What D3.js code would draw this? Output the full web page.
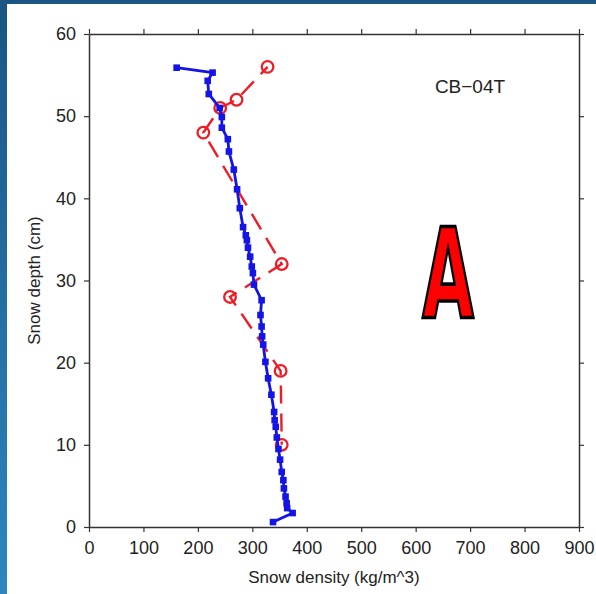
<!DOCTYPE html>
<html>
<head>
<meta charset="utf-8">
<script src="https://cdn.jsdelivr.net/npm/d3@7"></script>
<style>
  html, body { margin: 0; padding: 0; background: #fff; }
  svg { display: block; }
  text { font-family: "Liberation Sans", Arial, Helvetica, sans-serif; }
</style>
</head>
<body>
<svg id="chart" width="596" height="594"></svg>
<script>
// ---- data ----
const xTicks = [0, 100, 200, 300, 400, 500, 600, 700, 800, 900];
const yTicks = [0, 10, 20, 30, 40, 50, 60];
const xLabel = "Snow density (kg/m^3)";
const yLabel = "Snow depth (cm)";
const siteLabel = "CB\u221204T";
const panelLetter = "A";

// blue profile: [density, depth]
const blueDensity = [161, 227, 218, 220, 240, 244, 244, 255, 257, 266, 272, 277, 283, 288, 290, 292, 296, 299, 301, 303,
                     317, 315, 317, 318, 320, 324, 329, 335, 340, 341, 343, 345, 348, 351, 354, 357, 358, 361, 363, 364, 374, 338];
const blueDepth   = [55.9, 55.3, 54.3, 52.7, 51.0, 49.9, 48.6, 47.2, 45.7, 43.5, 41.1, 38.8, 36.5, 35.5, 34.9, 34.0, 32.9, 31.7, 30.9, 29.5,
                     27.6, 25.8, 24.4, 23.2, 22.2, 20.1, 18.1, 16.1, 14.0, 13.0, 12.2, 10.9, 9.5, 8.2, 6.7, 5.7, 4.7, 3.7, 2.9, 2.3, 1.7, 0.6];

// red profile
const redDensity = [328, 271, 241, 210, 354, 259, 352, 354];
const redDepth   = [56, 52, 51, 48, 32, 28, 19, 10];

// ---- drawing ----
const W = 596, H = 594;
const svg = d3.select("#chart");

// background frame gradient
const defs = svg.append("defs");
const grad = defs.append("linearGradient").attr("id", "bg").attr("x1", 0).attr("y1", 0).attr("x2", 0).attr("y2", 1);
grad.append("stop").attr("offset", "0%").attr("stop-color", "#1a5583");
grad.append("stop").attr("offset", "100%").attr("stop-color", "#2e86c0");
svg.append("rect").attr("width", W).attr("height", H).attr("fill", "url(#bg)");
svg.append("rect").attr("x", 7).attr("y", 4).attr("width", W - 7).attr("height", H - 4).attr("fill", "#ffffff");

const x = d3.scaleLinear().domain([0, 900]).range([89, 579]);
const y = d3.scaleLinear().domain([0, 60]).range([527, 34]);

const axisColor = "#333";
function styleAxis(g) {
  g.selectAll("path.domain").attr("stroke", axisColor).attr("stroke-width", 1.5);
  g.selectAll(".tick line").attr("stroke", axisColor).attr("stroke-width", 1.2);
  g.selectAll("text").attr("fill", "#222").style("font-size", "18px")
    .style("font-family", '"Liberation Sans", Arial, sans-serif');
}

svg.append("g").attr("transform", `translate(0,${y(0)})`)
  .call(d3.axisBottom(x).tickValues(xTicks).tickSize(5).tickSizeOuter(0).tickPadding(9))
  .call(styleAxis);
svg.append("g").attr("transform", `translate(0,${y(60)})`)
  .call(d3.axisTop(x).tickValues(xTicks).tickSize(5).tickSizeOuter(0).tickFormat(""))
  .call(styleAxis);
svg.append("g").attr("transform", `translate(${x(0)},0)`)
  .call(d3.axisLeft(y).tickValues(yTicks).tickSize(5).tickSizeOuter(0).tickPadding(8))
  .call(styleAxis);
svg.append("g").attr("transform", `translate(${x(900)},0)`)
  .call(d3.axisRight(y).tickValues(yTicks).tickSize(5).tickSizeOuter(0).tickFormat(""))
  .call(styleAxis);

// axis titles
svg.append("text").attr("x", (x(0) + x(900)) / 2).attr("y", 583)
  .attr("text-anchor", "middle").style("font-size", "17px").attr("fill", "#222").text(xLabel);
svg.append("text").attr("transform", `translate(40,${(y(0) + y(60)) / 2}) rotate(-90)`)
  .attr("text-anchor", "middle").style("font-size", "17px").attr("fill", "#222").text(yLabel);

// site label
svg.append("text").attr("x", 470).attr("y", 93).attr("text-anchor", "middle")
  .style("font-size", "19px").attr("fill", "#222").text(siteLabel);

// red dashed series
const redPts = redDensity.map((d, i) => [d, redDepth[i]]);
const line = d3.line().x(d => x(d[0])).y(d => y(d[1]));
svg.append("path").datum(redPts).attr("d", line)
  .attr("fill", "none").attr("stroke", "#ee1c24").attr("stroke-width", 2.4)
  .attr("stroke-dasharray", "18,10").attr("stroke-dashoffset", 8);
svg.append("g").selectAll("circle").data(redPts).join("circle")
  .attr("cx", d => x(d[0])).attr("cy", d => y(d[1])).attr("r", 5.8)
  .attr("fill", "none").attr("stroke", "#ee1c24").attr("stroke-width", 2.3);

// blue series
const bluePts = blueDensity.map((d, i) => [d, blueDepth[i]]);
svg.append("path").datum(bluePts).attr("d", line)
  .attr("fill", "none").attr("stroke", "#1414e6").attr("stroke-width", 2.8);
svg.append("g").selectAll("rect").data(bluePts).join("rect")
  .attr("x", d => x(d[0]) - 3.3).attr("y", d => y(d[1]) - 3.3)
  .attr("width", 6.6).attr("height", 6.6).attr("fill", "#1414e6");

// panel letter
svg.append("text").attr("transform", "translate(448,318) scale(1,1.68)")
  .attr("text-anchor", "middle")
  .style("font-family", '"Liberation Sans Narrow", "DejaVu Sans Condensed", sans-serif')
  .style("font-weight", "bold").style("font-size", "74px")
  .attr("fill", "#ff0000").attr("stroke", "#000").attr("stroke-width", 2.2)
  .attr("stroke-linejoin", "miter")
  .text(panelLetter);
</script>
</body>
</html>
